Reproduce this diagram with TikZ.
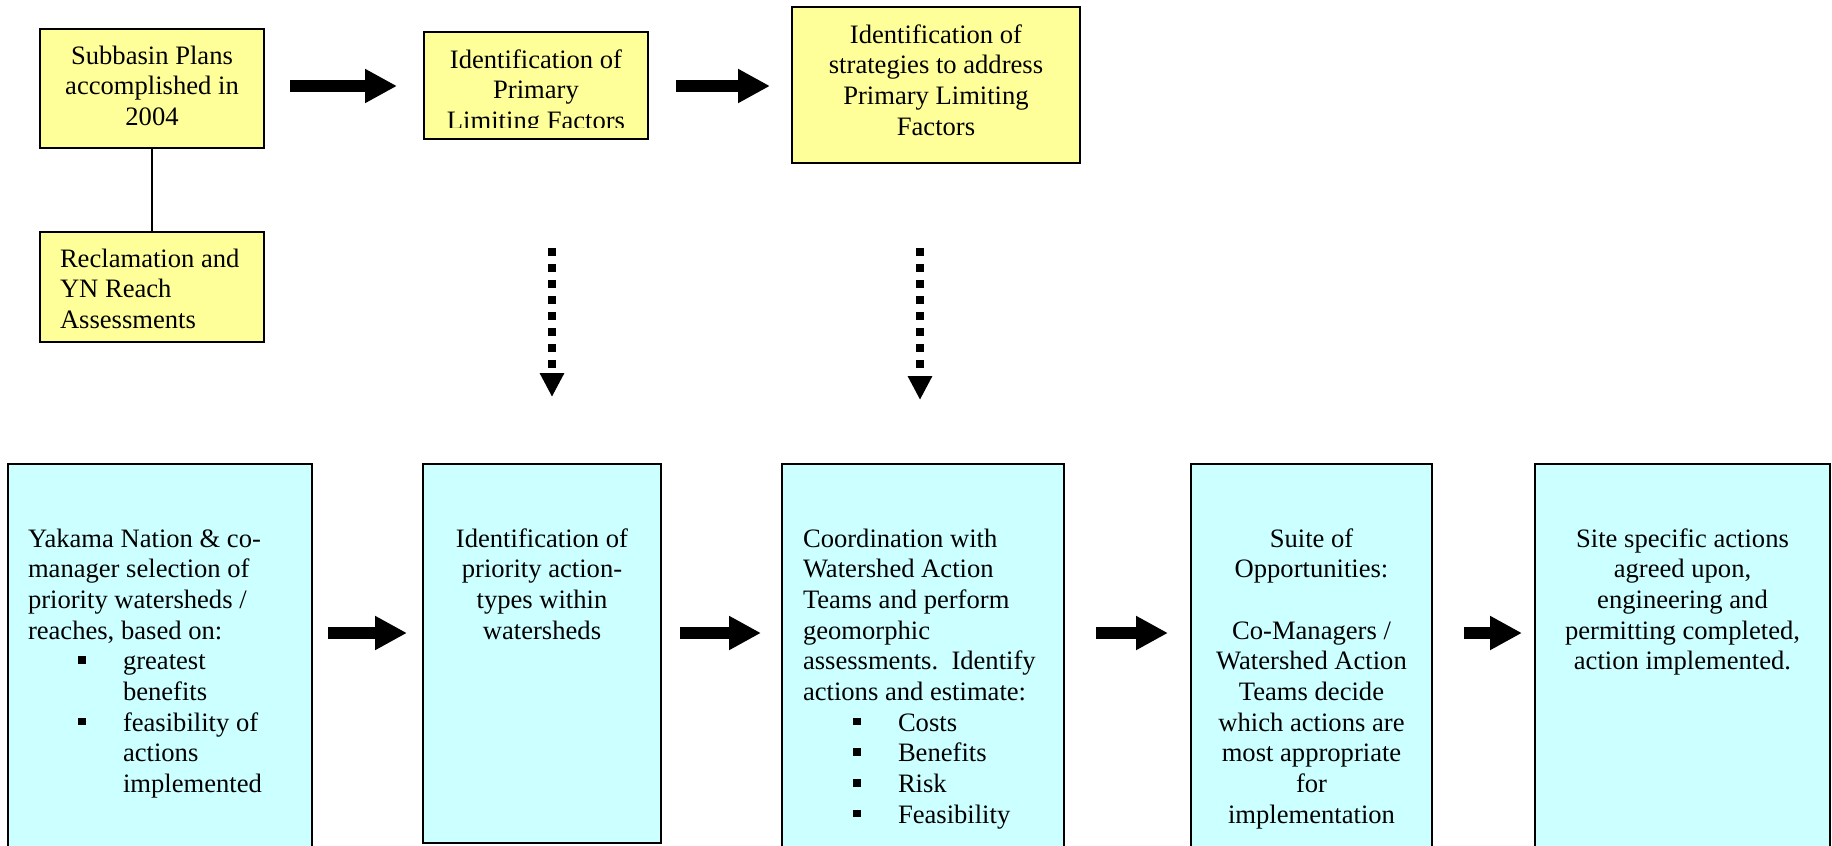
\documentclass[tikz,border=0pt]{standalone}
\usepackage{fontspec}
\setmainfont{Liberation Serif}
\usetikzlibrary{arrows.meta}
\definecolor{boxyellow}{RGB}{255,255,153}
\definecolor{boxcyan}{RGB}{204,255,255}
\newcommand\boxfont{\fontsize{26.6pt}{30.67pt}\selectfont}
\newcommand\sqbul{\rule[6pt]{7.5pt}{7.5pt}}
\newcommand\bitem[1]{\hspace*{50pt}\makebox[45pt][l]{\sqbul}#1}
\newcommand\bcont[1]{\hspace*{95pt}#1}
\tikzset{
  panel/.style={draw=black, line width=1.8pt, inner sep=0pt, outer sep=0pt},
  ypanel/.style={panel, fill=boxyellow},
  cpanel/.style={panel, fill=boxcyan},
  txt/.style={inner sep=0pt, outer sep=0pt, font=\boxfont},
  bigarrow/.style={line width=12pt, -{Triangle[length=32pt,width=32pt]}},
  dotarrow/.style={line width=8pt, dash pattern=on 8pt off 8pt, -{Triangle[length=24pt,width=23pt]}},
  joinline/.style={line width=1.5pt},
}
\begin{document}
\begin{tikzpicture}[x=1pt,y=-1pt]
\useasboundingbox (0,0) rectangle (1832,846);
\begin{scope}
\clip (0,0) rectangle (1832,846);

% top row boxes
\node[ypanel, minimum width=224pt, minimum height=119pt] (A) at (152,88.5) {};
\node[ypanel, minimum width=224pt, minimum height=110pt] (B) at (152,287) {};
\node[ypanel, minimum width=224pt, minimum height=107pt] (C) at (536,85.5) {};
\node[ypanel, minimum width=288pt, minimum height=156pt] (D) at (936,85) {};

% bottom row boxes
\node[cpanel, minimum width=304pt, minimum height=436pt] (E) at (160,682) {};
\node[cpanel, minimum width=238pt, minimum height=379pt] (F) at (542,653.5) {};
\node[cpanel, minimum width=282pt, minimum height=436pt] (G) at (923,682) {};
\node[cpanel, minimum width=241pt, minimum height=436pt] (H) at (1311.5,682) {};
\node[cpanel, minimum width=295pt, minimum height=436pt] (I) at (1682.5,682) {};

% texts
\node[txt, anchor=base] (tA) at (152,64) {\begin{tabular}[t]{@{}c@{}}Subbasin Plans\\accomplished in\\2004\end{tabular}};
\node[txt, anchor=base west] (tB) at (60,267) {\begin{tabular}[t]{@{}l@{}}Reclamation and\\YN Reach\\Assessments\end{tabular}};
\begin{scope}
\clip (425,33) rectangle (647,127.5);
\node[txt, anchor=base] (tC) at (536,68) {\begin{tabular}[t]{@{}c@{}}Identification of\\Primary\\Limiting Factors\end{tabular}};
\end{scope}
\node[txt, anchor=base] (tD) at (936,43.3) {\begin{tabular}[t]{@{}c@{}}Identification of\\strategies to address\\Primary Limiting\\Factors\end{tabular}};

\node[txt, anchor=base west] (tE) at (28,547.3) {\begin{tabular}[t]{@{}l@{}}Yakama Nation \& co-\\manager selection of\\priority watersheds /\\reaches, based on:\\\bitem{greatest}\\\bcont{benefits}\\\bitem{feasibility of}\\\bcont{actions}\\\bcont{implemented}\end{tabular}};
\node[txt, anchor=base] (tF) at (542,547.3) {\begin{tabular}[t]{@{}c@{}}Identification of\\priority action-\\types within\\watersheds\end{tabular}};
\node[txt, anchor=base west] (tG) at (803,547.3) {\begin{tabular}[t]{@{}l@{}}Coordination with\\Watershed Action\\Teams and perform\\geomorphic\\assessments.\ \ Identify\\actions and estimate:\\\bitem{Costs}\\\bitem{Benefits}\\\bitem{Risk}\\\bitem{Feasibility}\end{tabular}};
\node[txt, anchor=base] (tH) at (1311.5,547.3) {\begin{tabular}[t]{@{}c@{}}Suite of\\Opportunities:\\ \\Co-Managers /\\Watershed Action\\Teams decide\\which actions are\\most appropriate\\for\\implementation\end{tabular}};
\node[txt, anchor=base] (tI) at (1682.5,547.3) {\begin{tabular}[t]{@{}c@{}}Site specific actions\\agreed upon,\\engineering and\\permitting completed,\\action implemented.\end{tabular}};

% connectors
\coordinate (toprow) at (0,86);
\coordinate (botrow) at (0,633);
\coordinate (dx1) at (552,0);
\coordinate (dx2) at (920,0);

\draw[joinline] (A) -- (B);
\draw[bigarrow, shorten <=26pt, shorten >=27pt] (A.east |- toprow) -- (C.west |- toprow);
\draw[bigarrow, shorten <=28pt, shorten >=22pt] (C.east |- toprow) -- (D.west |- toprow);

\draw[dotarrow, shorten <=109pt, shorten >=67pt] (C.south -| dx1) -- (F.north -| dx1);
\draw[dotarrow, shorten <=85pt, shorten >=64pt] (D.south -| dx2) -- (G.north -| dx2);

\draw[bigarrow, shorten <=16pt, shorten >=16pt] (E.east |- botrow) -- (F.west |- botrow);
\draw[bigarrow, shorten <=19pt, shorten >=21pt] (F.east |- botrow) -- (G.west |- botrow);
\draw[bigarrow, shorten <=32pt, shorten >=23pt] (G.east |- botrow) -- (H.west |- botrow);
\draw[bigarrow, shorten <=32pt, shorten >=13pt] (H.east |- botrow) -- (I.west |- botrow);
\end{scope}
\end{tikzpicture}
\end{document}
